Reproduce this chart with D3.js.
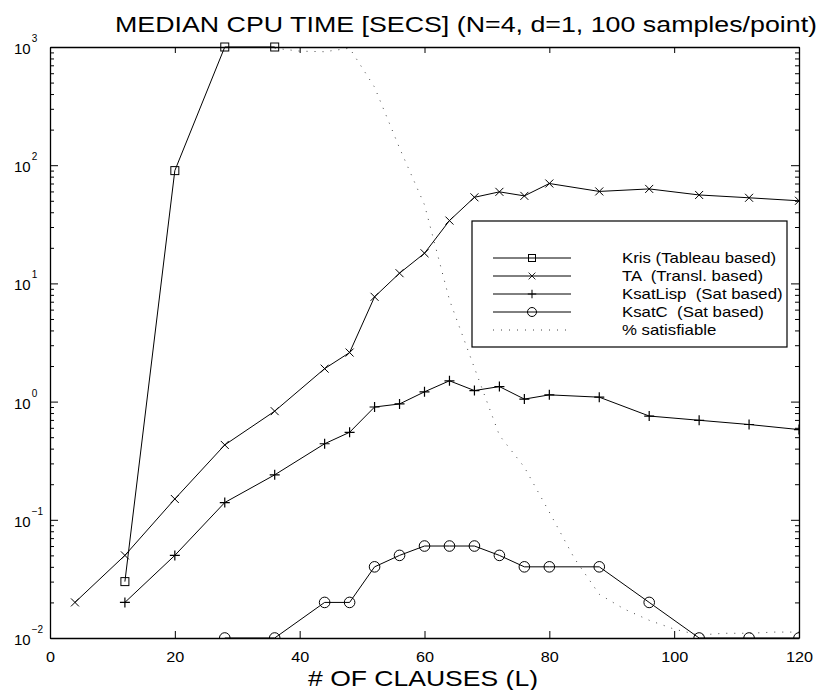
<!DOCTYPE html>
<html>
<head>
<meta charset="utf-8">
<script src="https://cdn.jsdelivr.net/npm/d3@7"></script>
<style>
  body { margin: 0; background: #fff; }
  svg { display: block; font-family: "Liberation Sans", Arial, Helvetica, sans-serif; }
</style>
</head>
<body>
<svg width="820" height="690"></svg>
<script>
// clauses on x, median cpu secs on y (log)
var krisX = [12, 20, 28, 36]
var krisY = [0.03, 90, 1000, 1000]
var taX = [4, 12, 20, 28, 36, 44, 48, 52, 56, 60, 64, 68, 72, 76, 80, 88, 96, 104, 112, 120]
var taY = [0.02, 0.05, 0.15, 0.43, 0.83, 1.9, 2.6, 7.7, 12.2, 18, 34, 53.5, 59.5, 55, 70, 60, 63, 56, 53, 50]
var lispX = [12, 20, 28, 36, 44, 48, 52, 56, 60, 64, 68, 72, 76, 80, 88, 96, 104, 112, 120]
var lispY = [0.02, 0.05, 0.14, 0.24, 0.44, 0.55, 0.9, 0.955, 1.21, 1.5, 1.24, 1.34, 1.05, 1.14, 1.09, 0.755, 0.695, 0.64, 0.58]
var ksatcX = [28, 36, 44, 48, 52, 56, 60, 64, 68, 72, 76, 80, 88, 96, 104, 112, 120]
var ksatcY = [0.01, 0.01, 0.02, 0.02, 0.04, 0.05, 0.06, 0.06, 0.06, 0.05, 0.04, 0.04, 0.04, 0.02, 0.01, 0.01, 0.01]
// % satisfiable, drawn on its own 0..100 scale over the same box
var satX = [36, 40, 44, 48, 52, 56, 60, 64, 68, 72, 76, 80, 84, 88, 92, 96, 100, 104, 108, 112, 116, 120]
var satY = [99.8, 99.3, 99.2, 99.8, 93.2, 82.9, 73.3, 57.2, 45.7, 34.3, 28.9, 21.3, 13.5, 7.4, 4.9, 3.0, 1.5, 0.5, 0.8, 0.8, 1.0, 1.0]

var xTicks = [0, 20, 40, 60, 80, 100, 120]
var decades = [-2, -1, 0, 1, 2, 3]
var legendNames = ["Kris (Tableau based)", "TA  (Transl. based)", "KsatLisp  (Sat based)", "KsatC  (Sat based)", "% satisfiable"]
var titleText = "MEDIAN CPU TIME [SECS] (N=4, d=1, 100 samples/point)"
var xLabel = "# OF CLAUSES (L)"

var margin = {left: 50, top: 47}
var width = 749
var height = 591

var svg = d3.select("svg")
var g = svg.append("g").attr("transform", "translate(" + margin.left + "," + margin.top + ")")

var x = d3.scaleLinear().domain([0, 120]).range([0, width])
var y = d3.scaleLog().domain([0.01, 1000]).range([height, 0])
var ySat = d3.scaleLinear().domain([0, 100]).range([height, 0])

// the original postscript fonts are wider than ours, stretch a bit
function stretch(sel, k) {
	sel.each(function () {
		var w = this.getComputedTextLength()
		d3.select(this).attr("textLength", w * k).attr("lengthAdjust", "spacingAndGlyphs")
	})
}

// all log ticks 1..9 per decade
var logTicks = []
decades.forEach(function (e) {
	for (var k = 1; k <= 9; k++) {
		var v = k * Math.pow(10, e)
		if (v <= 1000) logTicks.push(v)
	}
})
function isMajor(v) { return Math.abs(Math.log10(v) - Math.round(Math.log10(v))) < 1e-9 }

svg.append("defs").append("clipPath").attr("id", "clip")
	.append("rect").attr("x", 0).attr("y", -12).attr("width", width).attr("height", height + 12)

var plot = g.append("g").attr("clip-path", "url(#clip)")

// satisfiable dotted
plot.append("path")
	.datum(satX.map(function (d, i) { return [d, satY[i]] }))
	.attr("fill", "none")
	.attr("stroke", "#444")
	.attr("stroke-width", 1)
	.attr("stroke-dasharray", "1,7")
	.attr("d", d3.line().x(d => x(d[0])).y(d => ySat(d[1])))

var series = [
	{xs: krisX, ys: krisY, mark: "square"},
	{xs: taX, ys: taY, mark: "x"},
	{xs: lispX, ys: lispY, mark: "plus"},
	{xs: ksatcX, ys: ksatcY, mark: "circle"}
]

var line = d3.line().x(d => x(d[0])).y(d => y(d[1]))

function drawMark(sel, mark) {
	if (mark == "square") {
		sel.append("rect").attr("x", -4).attr("y", -4).attr("width", 8).attr("height", 8)
			.attr("fill", "none").attr("stroke", "#000").attr("stroke-width", 1)
	} else if (mark == "x") {
		sel.append("path").attr("d", "M-4,-4L4,4M-4,4L4,-4").attr("stroke", "#000").attr("stroke-width", 1)
	} else if (mark == "plus") {
		sel.append("path").attr("d", "M-5,0L5,0M0,-5L0,5").attr("stroke", "#000").attr("stroke-width", 1.2)
	} else if (mark == "circle") {
		sel.append("circle").attr("r", 5.3).attr("fill", "none").attr("stroke", "#000").attr("stroke-width", 1)
	}
}

series.forEach(function (s) {
	var pts = s.xs.map(function (d, i) { return [d, s.ys[i]] })
	plot.append("path").datum(pts)
		.attr("fill", "none").attr("stroke", "#000").attr("stroke-width", 1)
		.attr("d", line)
	plot.selectAll(null).data(pts).enter().append("g")
		.attr("transform", d => "translate(" + x(d[0]) + "," + y(d[1]) + ")")
		.each(function () { drawMark(d3.select(this), s.mark) })
})

// axes, ticks pointing inward
var xb = g.append("g").attr("transform", "translate(0," + height + ")")
	.call(d3.axisBottom(x).tickValues(xTicks).tickSizeInner(-7).tickSizeOuter(0).tickPadding(13))
xb.attr("font-family", null).attr("font-size", null)
xb.selectAll("text").style("font-size", "15px").attr("fill", "#000")
stretch(xb.selectAll("text"), 1.08)
var xt = g.append("g")
	.call(d3.axisTop(x).tickValues(xTicks).tickSizeInner(-6).tickSizeOuter(0).tickFormat(""))

var yl = g.append("g").call(d3.axisLeft(y).tickValues(logTicks).tickSizeInner(-4).tickSizeOuter(0).tickFormat(""))
yl.selectAll(".tick line").attr("x2", d => isMajor(d) ? 8 : 4)
var yr = g.append("g").attr("transform", "translate(" + width + ",0)")
	.call(d3.axisRight(y).tickValues(logTicks).tickSizeInner(-4).tickSizeOuter(0).tickFormat(""))
yr.selectAll(".tick line").attr("x2", d => isMajor(d) ? -8 : -4)

g.selectAll(".domain").attr("stroke", "#000").attr("stroke-width", 1.3)
g.selectAll(".tick line").attr("stroke", "#000")

// y labels 10^k
var ylab = g.append("g").selectAll("text").data(decades).enter().append("text")
	.attr("x", -36)
	.attr("y", d => y(Math.pow(10, d)) + 7)
	.style("font-size", "15px")
ylab.append("tspan").text("10")
ylab.append("tspan").attr("dx", 1).attr("dy", -12).style("font-size", "10px")
	.text(d => d < 0 ? "\u2212" + (-d) : String(d))

// legend
var lg = g.append("g").attr("transform", "translate(422,174)")
lg.append("rect").attr("width", 315).attr("height", 126)
	.attr("fill", "#fff").attr("stroke", "#000").attr("stroke-width", 1.2)
var rows = lg.selectAll("g.row").data(legendNames).enter().append("g")
	.attr("class", "row")
	.attr("transform", (d, i) => "translate(0," + (37 + i * 18) + ")")
rows.append("line").attr("x1", 21).attr("x2", 99)
	.attr("stroke", (d, i) => i == 4 ? "#444" : "#000")
	.attr("stroke-width", 1)
	.attr("stroke-dasharray", (d, i) => i == 4 ? "1,7" : null)
rows.each(function (d, i) {
	if (i < 4) {
		var m = d3.select(this).append("g").attr("transform", "translate(60,0)")
		drawMark(m, series[i].mark)
		m.selectAll("rect").attr("x", -3.5).attr("y", -3.5).attr("width", 7).attr("height", 7)
		m.selectAll("circle").attr("r", 4.5)
		m.selectAll("path").attr("transform", "scale(0.85)")
	}
})
var ltext = rows.append("text").attr("x", 150).attr("y", 5)
	.style("font-size", "15px").style("white-space", "pre")
	.text(d => d)
stretch(ltext, 1.12)

// title and x label
var title = svg.append("text").attr("x", 115).attr("y", 32)
	.style("font-size", "22px").text(titleText)
title.attr("textLength", 702).attr("lengthAdjust", "spacingAndGlyphs")
var xl = svg.append("text").attr("x", 308).attr("y", 686)
	.style("font-size", "22px").text(xLabel)
xl.attr("textLength", 230).attr("lengthAdjust", "spacingAndGlyphs")
</script>
</body>
</html>
